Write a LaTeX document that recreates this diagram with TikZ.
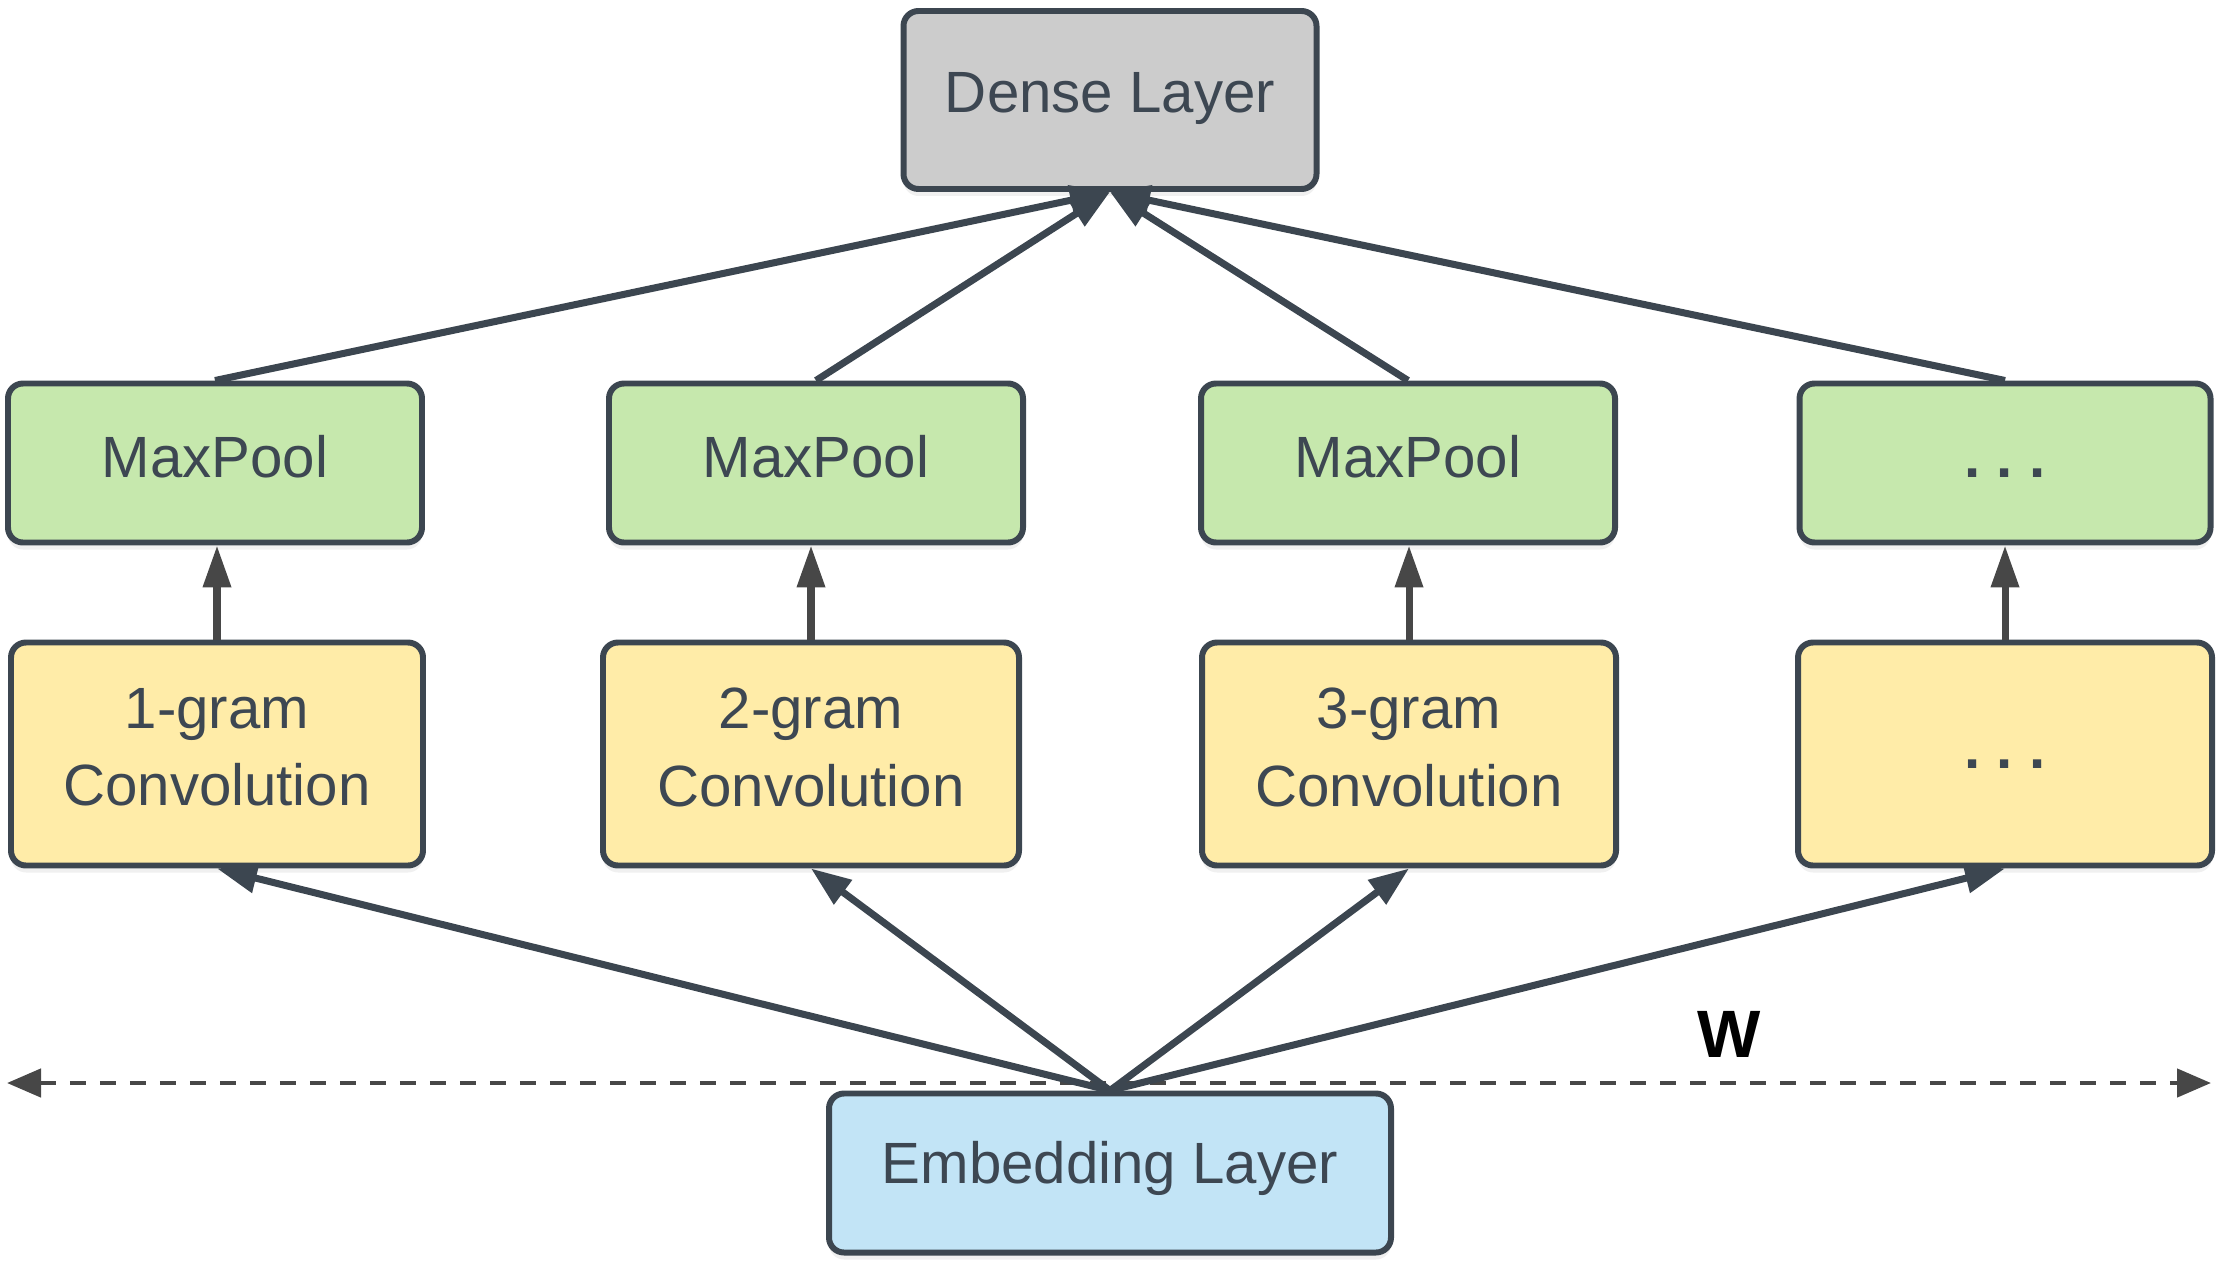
\documentclass[tikz,border=0pt]{standalone}
\usepackage{fontspec}
\setmainfont{Liberation Sans}
\usetikzlibrary{arrows.meta,shadows}
\definecolor{edge}{HTML}{3C4650}
\definecolor{ink}{HTML}{3D4752}
\definecolor{densefill}{HTML}{CCCCCC}
\definecolor{poolfill}{HTML}{C6E8AD}
\definecolor{convfill}{HTML}{FFECA8}
\definecolor{embfill}{HTML}{C2E4F6}
\definecolor{tipgray}{HTML}{474747}
\begin{document}
\begin{tikzpicture}[
  box/.style={draw=edge,line width=1.7pt,rounded corners=0.15cm,text=ink,align=center,inner sep=0pt,
    font=\fontsize{16.5bp}{22bp}\selectfont,text depth=4bp,
    drop shadow={opacity=0.12,shadow xshift=0pt,shadow yshift=-0.07cm}},
  oneline/.style={text height=12bp},
  dots/.style={text height=12bp,text depth=4bp,font=\bfseries\fontsize{16.5bp}{22bp}\selectfont},
  densebox/.style={box,oneline,text depth=5bp,fill=densefill,minimum width=4.13cm,minimum height=1.78cm},
  poolbox/.style={box,oneline,fill=poolfill,minimum width=4.14cm,minimum height=1.59cm},
  convbox/.style={box,fill=convfill,minimum width=4.14cm,minimum height=2.23cm},
  embbox/.style={box,oneline,text depth=6bp,fill=embfill,minimum width=5.62cm,minimum height=1.59cm},
  link/.style={draw=edge,line width=2pt,-{Triangle[length=0.4cm,width=0.29cm]}},
  uplink/.style={draw=tipgray,line width=2pt,-{Triangle[length=0.42cm,width=0.27cm]}},
  width/.style={draw=tipgray,line width=1.3pt,dash pattern=on 0.16cm off 0.14cm,
    {Triangle[length=0.34cm,width=0.28cm]}-{Triangle[length=0.34cm,width=0.28cm]}}]
\useasboundingbox (0,0) rectangle (22.26,12.72);
\node[densebox] (dense) at (11.10,11.72) {Dense Layer};
\node[poolbox] (pool1) at (2.15,8.09) {MaxPool};
\node[poolbox] (pool2) at (8.16,8.09) {MaxPool};
\node[poolbox] (pool3) at (14.08,8.09) {MaxPool};
\node[poolbox,dots,minimum width=4.11cm] (pool4) at (20.05,8.09) {.\ .\ .};
\node[convbox,minimum width=4.12cm] (conv1) at (2.17,5.18) {1-gram\\Convolution};
\node[convbox,minimum width=4.16cm] (conv2) at (8.11,5.18) {2-gram\\Convolution};
\node[convbox] (conv3) at (14.09,5.18) {3-gram\\Convolution};
\node[convbox,dots] (conv4) at (20.05,5.18) {.\ .\ .};
% width of the sequence
\coordinate (wleft) at (0.07,1.89);
\coordinate (wright) at (22.11,1.89);
\draw[width] (wleft) -- (wright);
\node[font=\bfseries\fontsize{19bp}{19bp}\selectfont,text=black] (wlabel) at (17.29,2.38) {W};
\node[embbox] (emb) at (11.10,0.99) {Embedding Layer};
\draw[link] (pool1.north) -- (dense.south);
\draw[link] (pool4.north) -- (dense.south);
\draw[link] (pool2.north) -- (dense.south);
\draw[link] (pool3.north) -- (dense.south);
\draw[uplink] (conv1.north) -- (conv1.north |- pool1.south);
\draw[uplink] (conv2.north) -- (conv2.north |- pool2.south);
\draw[uplink] (conv3.north) -- (conv3.north |- pool3.south);
\draw[uplink] (conv4.north) -- (conv4.north |- pool4.south);
\draw[link] (emb.north) -- (conv1.south);
\draw[link] (emb.north) -- (conv2.south);
\draw[link] (emb.north) -- (conv3.south);
\draw[link] (emb.north) -- (conv4.south);
\end{tikzpicture}
\end{document}
